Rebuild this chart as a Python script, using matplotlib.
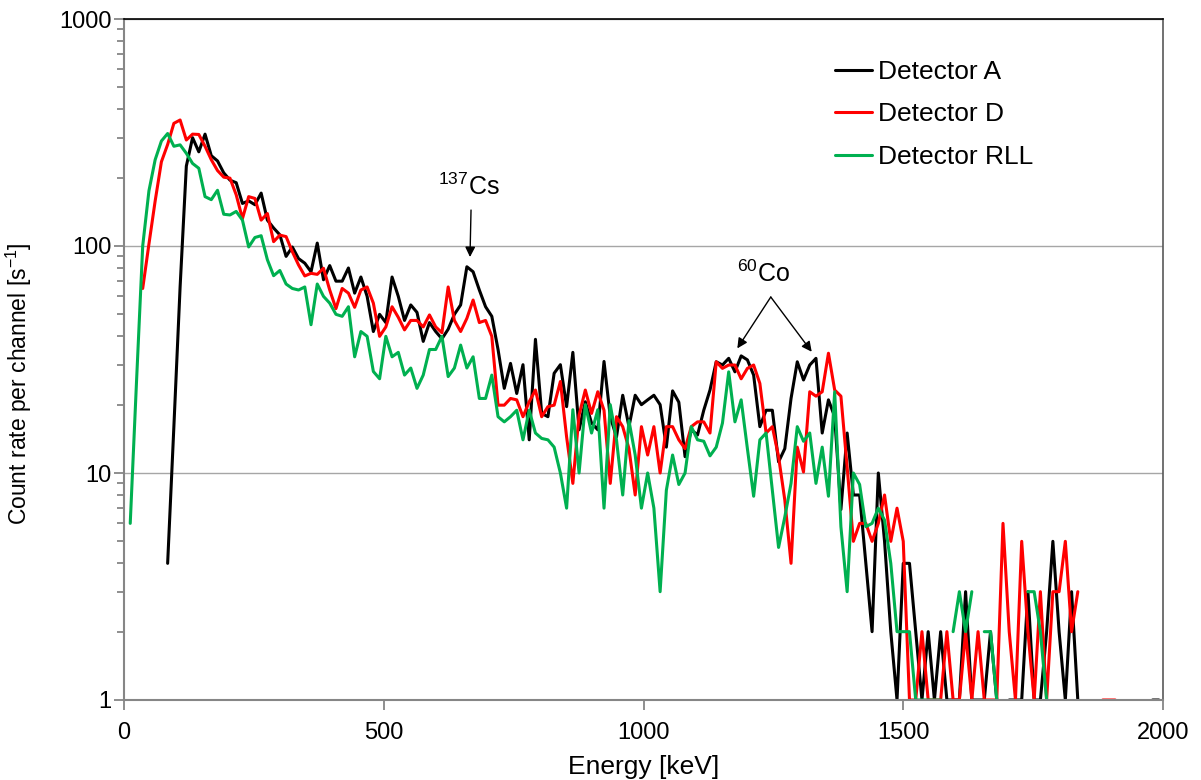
import numpy as np
import matplotlib
matplotlib.use("Agg")
import matplotlib.pyplot as plt
from matplotlib.ticker import FixedLocator, NullFormatter

plt.rcParams['font.family'] = ['Liberation Sans', 'DejaVu Sans']
plt.rcParams['mathtext.fontset'] = 'custom'
plt.rcParams['mathtext.rm'] = 'Liberation Sans'
plt.rcParams['mathtext.it'] = 'Liberation Sans:italic'
plt.rcParams['mathtext.bf'] = 'Liberation Sans:bold'

# ---------------- data (count rate per 12 keV channel, 0 = empty channel) ----
BIN_KEV = 12

det_a_start = 84
det_a = [4, 16, 66, 225, 300, 260, 311, 250, 237, 210,
         195, 190, 154, 158, 152, 171, 130, 120, 112, 90,
         99, 88, 84, 77, 103, 71, 82, 70, 70, 80,
         62, 73, 60, 42, 50, 46, 73, 60, 47, 55,
         51, 38, 46, 42, 39, 43, 50, 55, 81, 77,
         64, 54, 49, 35, 23.6, 30.4, 22.4, 30, 14, 38.8,
         18.3, 17.7, 27.5, 30, 19.6, 34, 15.5, 20.6, 16.6, 15.5,
         31, 17.7, 14.4, 22, 16, 22, 20, 21, 22, 20,
         13, 23, 20.5, 11.8, 15.5, 14.7, 18.9, 23.2, 30.9, 29.9,
         32, 27.9, 32.8, 31.5, 27, 16, 18.9, 18.9, 11.2, 12.8,
         21.3, 30.9, 25.7, 29.9, 32, 15, 21, 17.7, 6.9, 15,
         8, 8, 4, 2, 10, 5, 2, 1, 4, 4,
         2, 1, 2, 1, 2, 1, 1, 1, 3, 1,
         1, 1, 2, 1, 0, 1, 1, 1, 3, 1,
         1, 2, 5, 2, 1, 3, 1, 0, 0, 0,
         0, 0, 0, 0, 0, 0, 0, 0, 1, 1]

det_d_start = 36
det_d = [65, 102, 158, 235, 280, 347, 359, 293, 311, 310,
         275, 240, 215, 201, 199, 168, 132, 165, 162, 130,
         139, 104.5, 111.7, 110, 94.4, 82.5, 73.8, 75.8, 75, 79.8,
         64, 53, 65, 62, 53.7, 64, 66, 56, 40, 44,
         54, 48.5, 42.7, 47, 47, 44, 49.7, 44, 41.5, 66,
         47, 42, 48, 57.8, 46, 47, 40, 19.9, 19.9, 21.3,
         21, 17.7, 20.6, 23.2, 17.7, 19.6, 19.9, 25.3, 14.4, 9,
         18, 23.2, 18.3, 22.8, 18.9, 9, 17.7, 16, 12.8, 8,
         16, 12, 16, 10, 16, 16, 14, 12.8, 16, 16.8,
         16.8, 15, 30.9, 28.9, 29.9, 29.9, 26, 28.9, 29.9, 24.8,
         15, 16, 11.8, 7.6, 4, 13, 10.1, 22.8, 21.8, 22.8,
         33.7, 23.2, 21.8, 10.6, 5, 6, 6, 5, 6, 8,
         5, 7, 5, 1, 1, 2, 1, 1, 1, 2,
         1, 1, 2, 1, 2, 1, 1, 1, 6, 2,
         1, 5, 2, 1, 3, 1, 3, 3, 5, 2,
         3, 0, 0, 0, 1, 1, 1]

det_rll_start = 12
det_rll = [6, 25, 100, 175, 240, 290, 313, 275, 279, 256,
           231, 220, 165, 160, 176, 138, 137, 142, 130, 99,
           109, 111, 87, 74, 78, 68, 65, 64, 66, 45,
           68, 60, 56, 50, 49, 54, 32.5, 42, 40, 28,
           26, 40, 32.5, 34, 27, 29, 23.6, 27, 35, 35,
           40, 26.6, 29, 36.6, 29, 32.5, 21.3, 21.3, 27, 17.7,
           16.8, 17.7, 18.9, 14, 18.9, 15, 14.2, 14, 13, 10,
           7, 19, 10, 20, 15, 19, 7, 20, 14, 8,
           17, 12, 7, 10, 7, 3, 8.4, 12, 8.9, 10,
           16, 14, 13.8, 11.9, 13, 16.6, 27.9, 16.8, 21, 12.8,
           7.9, 14, 15, 8.4, 4.7, 6.4, 9, 16, 13.8, 15,
           9, 13, 7.9, 22.8, 5.8, 3, 10, 8.9, 5.8, 6,
           7, 6.2, 4, 2, 2, 2, 1, 1, 1, 1,
           1, 0, 2, 3, 2, 3, 0, 2, 2, 1,
           0, 0, 0, 0, 3, 3, 2, 1]

series_names = ["Detector A", "Detector D", "Detector RLL"]
series_colors = ["#000000", "#ff0000", "#00b050"]

x_ticks = [0, 500, 1000, 1500, 2000]
y_ticks = [1, 10, 100, 1000]
y_ticklabels = ["1", "10", "100", "1000"]


def channels(start, values):
    e = start + BIN_KEV * np.arange(len(values))
    v = np.array(values, dtype=float)
    v[v <= 0] = np.nan          # empty channels are not drawn on a log axis
    return e, v


# ---------------- figure ----------------
W, H = 1201, 780
fig = plt.figure(figsize=(W / 100, H / 100), dpi=100)
L, R, T, B = 124, 1163, 19, 700
ax = fig.add_axes([L / W, 1 - B / H, (R - L) / W, (B - T) / H])

for (start, vals), name, col in zip(
        [(det_a_start, det_a), (det_d_start, det_d), (det_rll_start, det_rll)],
        series_names, series_colors):
    e, v = channels(start, vals)
    ax.plot(e, v, color=col, lw=2.2, label=name,
            solid_joinstyle='round', solid_capstyle='round')

ax.set_yscale('log')
ax.set_xlim(0, 2000)
ax.set_ylim(1, 1000)

ax.xaxis.set_major_locator(FixedLocator(x_ticks))
ax.set_xticklabels([str(t) for t in x_ticks])
ax.yaxis.set_major_locator(FixedLocator(y_ticks))
ax.set_yticklabels(y_ticklabels)
minor = [m * 10 ** d for d in range(0, 3) for m in range(2, 10)]
ax.yaxis.set_minor_locator(FixedLocator(minor))
ax.yaxis.set_minor_formatter(NullFormatter())
ax.xaxis.set_minor_locator(FixedLocator([]))

axis_gray = '#868686'
ax.tick_params(axis='both', which='major', direction='out', length=7,
               width=1.3, color=axis_gray, labelsize=17, labelcolor='black')
ax.tick_params(axis='y', which='minor', direction='out', length=5,
               width=1.3, color=axis_gray)
ax.tick_params(axis='y', which='major', pad=2)
ax.tick_params(axis='x', which='major', pad=8.5)

ax.yaxis.grid(True, which='major', color='#a6a6a6', lw=1.0)
ax.set_axisbelow(True)

ax.spines['left'].set_color(axis_gray)
ax.spines['bottom'].set_color(axis_gray)
ax.spines['left'].set_linewidth(1.5)
ax.spines['bottom'].set_linewidth(1.5)
ax.spines['top'].set_color('#000000')
ax.spines['top'].set_linewidth(1.2)
ax.spines['right'].set_color('#595959')
ax.spines['right'].set_linewidth(1.2)

ax.set_xlabel('Energy [keV]', fontsize=19)
ax.set_ylabel('Count rate per channel [s$^{-1}$]', fontsize=16.5)
ax.xaxis.set_label_coords(0.5, -0.081)
ax.yaxis.set_label_coords(-0.087, 0.465)

# ---------------- annotations ----------------
arrow = dict(arrowstyle='-|>', color='black', lw=1.0, mutation_scale=15,
             shrinkA=0, shrinkB=0)
ax.annotate('', xy=(666, 89.4), xytext=(668, 144), arrowprops=arrow)
ax.text(664, 183, r'$^{137}$Cs', ha='center', va='center', fontsize=18)

ax.text(1232, 75.5, r'$^{60}$Co', ha='center', va='center', fontsize=18)
ax.annotate('', xy=(1180.6, 35.4), xytext=(1245, 59.6), arrowprops=arrow)
ax.annotate('', xy=(1323.8, 34.2), xytext=(1245, 59.6), arrowprops=arrow)

# ---------------- legend ----------------
leg = ax.legend(loc='upper left', bbox_to_anchor=(835 / W, 1 - 60 / H),
                bbox_transform=fig.transFigure, frameon=False, fontsize=19,
                handlelength=1.4, handletextpad=0.24, labelspacing=0.70,
                borderpad=0, borderaxespad=0)

fig.savefig('out.png', dpi=100)
